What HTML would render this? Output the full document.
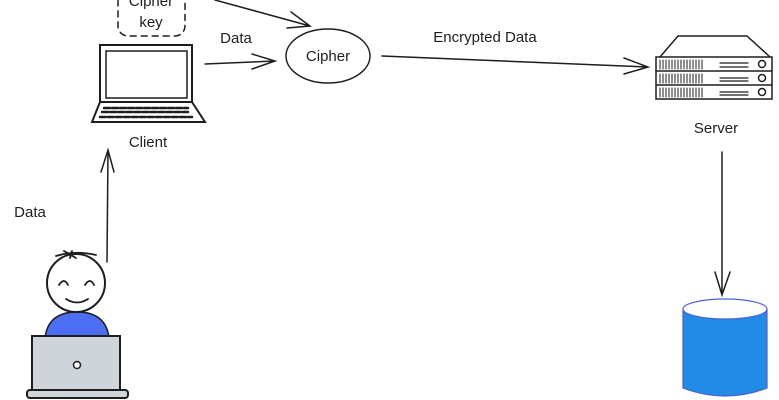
<!DOCTYPE html>
<html><head><style>html,body{margin:0;padding:0;background:#fff}svg{display:block}text{font-family:"Liberation Sans",sans-serif;font-size:15px;fill:#1e1e1e}</style></head>
<body>
<svg width="779" height="400" viewBox="0 0 779 400" xmlns="http://www.w3.org/2000/svg">
<g fill="none" stroke="#1e1e1e" stroke-width="1.5" stroke-linecap="round">
<!-- cipher key box -->
<rect x="118" y="-10" width="67" height="46" rx="10" stroke-dasharray="6 5"/>
<!-- laptop -->
<rect x="100" y="45" width="92" height="57" stroke-width="2"/>
<rect x="106" y="51" width="81" height="47"/>
<path d="M100 102 L92 122 L205 122 L192 102" stroke-width="2"/>
<path d="M104 108h84M102 112h88M100 117h92" stroke-width="2.5" stroke-dasharray="6 2"/>
<!-- arrows -->
<path d="M205 64 L275 61 M252 54 L275 61 L252 69"/>
<path d="M215 0 L310 26 M291 12 L310 26 L287 28"/>
<ellipse cx="328" cy="56" rx="42" ry="27"/>
<path d="M382 56 L648 67 M624 58 L648 67 L624 74"/>
<!-- server -->
<path d="M660 57 L678 36 L747 36 L770 57"/>
<rect x="656" y="57" width="116" height="42"/>
<path d="M656 71h116M656 85h116"/>
<path d="M660 60v9M663 60v9M666 60v9M669 60v9M672 60v9M675 60v9M678 60v9M681 60v9M684 60v9M687 60v9M690 60v9M693 60v9M696 60v9M699 60v9M702 60v9 M660 74v9M663 74v9M666 74v9M669 74v9M672 74v9M675 74v9M678 74v9M681 74v9M684 74v9M687 74v9M690 74v9M693 74v9M696 74v9M699 74v9M702 74v9 M660 88v9M663 88v9M666 88v9M669 88v9M672 88v9M675 88v9M678 88v9M681 88v9M684 88v9M687 88v9M690 88v9M693 88v9M696 88v9M699 88v9M702 88v9" stroke-width="1"/>
<path d="M720 63h28M720 67h28M720 78h28M720 81h28M720 92h28M720 95h28" stroke-width="1.2"/>
<circle cx="762" cy="64" r="3.5"/><circle cx="762" cy="78" r="3.5"/><circle cx="762" cy="92" r="3.5"/>
<path d="M722 152 L722 295 M715 272 L722 295 L730 272"/>
<!-- client arrow -->
<path d="M107 262 L108 150 M101 172 L108 150 L114 172"/>
</g>
<!-- cylinder -->
<path d="M683 309 L683 388 Q725 404 767 388 L767 309 Z" fill="#228be6" stroke="#4c5fd5" stroke-width="1.2"/>
<ellipse cx="725" cy="309" rx="42" ry="10" fill="#fff" stroke="#4c5fd5" stroke-width="1.2"/>
<!-- person -->
<path d="M45 338 Q48 312 77 312 Q106 312 109 338 Z" fill="#4c6ef5" stroke="#1e1e1e" stroke-width="1.5"/>
<circle cx="76" cy="283" r="29" fill="#fff" stroke="#1e1e1e" stroke-width="2"/>
<g fill="none" stroke="#1e1e1e" stroke-width="1.8" stroke-linecap="round">
<path d="M56 256 Q75 250 96 255 M64 251 L76 258 M72 251 L70 258"/>
<path d="M59 285 Q64 277 68 285 M85 285 Q90 277 94 285"/>
<path d="M66 299 Q77 306 88 299"/>
</g>
<rect x="32" y="336" width="88" height="54" fill="#ced4da" stroke="#1e1e1e" stroke-width="2"/>
<rect x="27" y="390" width="101" height="8" rx="3" fill="#ced4da" stroke="#1e1e1e" stroke-width="2"/>
<circle cx="77" cy="365" r="3.5" fill="#fff" stroke="#1e1e1e" stroke-width="1.5"/>
<!-- labels -->
<text x="151" y="6" text-anchor="middle">Cipher</text>
<text x="151" y="27" text-anchor="middle">key</text>
<text x="236" y="43" text-anchor="middle">Data</text>
<text x="328" y="61" text-anchor="middle">Cipher</text>
<text x="485" y="42" text-anchor="middle">Encrypted Data</text>
<text x="148" y="147" text-anchor="middle">Client</text>
<text x="716" y="133" text-anchor="middle">Server</text>
<text x="30" y="217" text-anchor="middle">Data</text>
</svg>
</body></html>
